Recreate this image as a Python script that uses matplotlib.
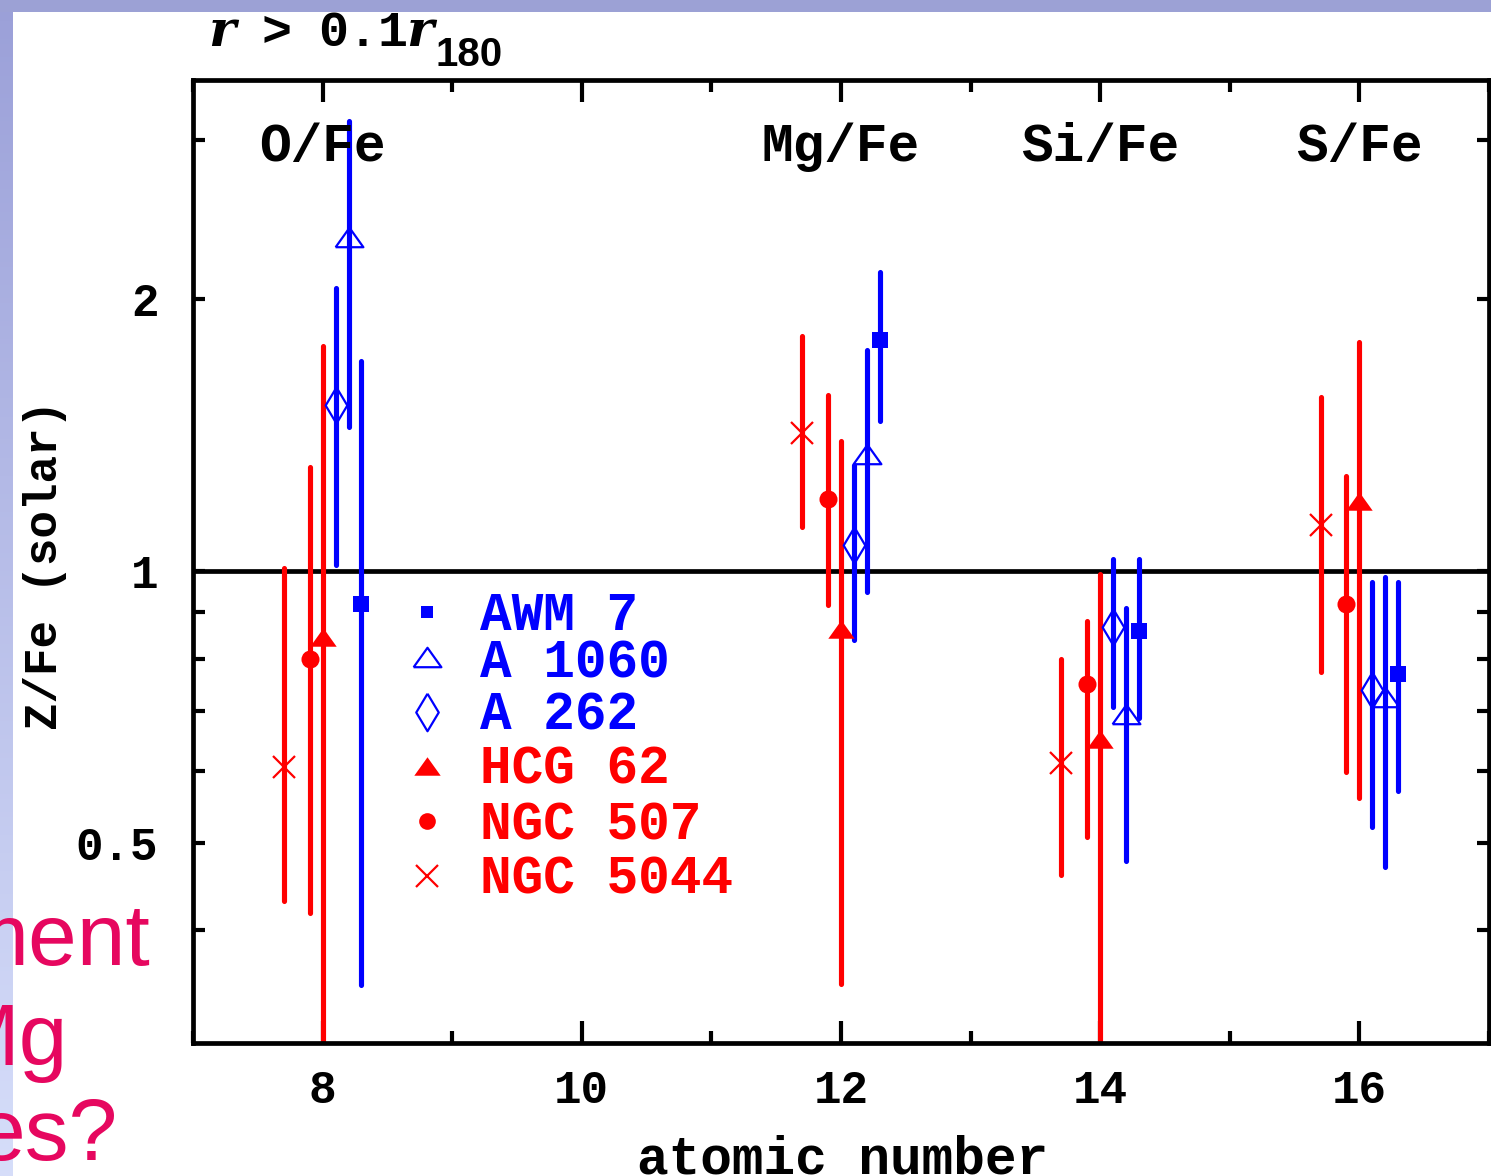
import numpy as np
import matplotlib
matplotlib.use("Agg")
import matplotlib.pyplot as plt
from matplotlib.ticker import FixedLocator, FixedFormatter, NullFormatter
from matplotlib.patches import Rectangle

# ---- data -------------------------------------------------------------
element_z = [8, 12, 14, 16]
element_labels = ["O/Fe", "Mg/Fe", "Si/Fe", "S/Fe"]

cluster_names = ["AWM 7", "A 1060", "A 262", "HCG 62", "NGC 507", "NGC 5044"]

# Z/Fe (solar) for O, Mg, Si, S and the lower / upper ends of each error bar
awm7_val = [0.919, 1.801, 0.859, 0.770]
awm7_lo = [0.348, 1.466, 0.687, 0.570]
awm7_hi = [1.707, 2.146, 1.030, 0.972]

a1060_val = [2.347, 1.349, 0.694, 0.725]
a1060_lo = [1.445, 0.948, 0.477, 0.470]
a1060_hi = [3.156, 1.758, 0.910, 0.984]

a262_val = [1.529, 1.069, 0.868, 0.739]
a262_lo = [1.015, 0.838, 0.707, 0.520]
a262_hi = [2.057, 1.310, 1.030, 0.972]

hcg62_val = [0.845, 0.862, 0.652, 1.196]
hcg62_lo = [0.20, 0.349, 0.20, 0.560]
hcg62_hi = [1.774, 1.393, 0.992, 1.794]

ngc507_val = [0.799, 1.201, 0.749, 0.920]
ngc507_lo = [0.418, 0.916, 0.508, 0.599]
ngc507_hi = [1.305, 1.565, 0.880, 1.275]

ngc5044_val = [0.607, 1.422, 0.613, 1.126]
ngc5044_lo = [0.431, 1.119, 0.461, 0.772]
ngc5044_hi = [1.008, 1.820, 0.800, 1.559]

y_ticks = [0.5, 1, 2]
y_tick_labels = ["0.5", "1", "2"]
y_minor_ticks = [0.4, 0.6, 0.7, 0.8, 0.9, 3]
x_ticks = [8, 10, 12, 14, 16]

# ---- styles -----------------------------------------------------------
BLUE = "#0000ff"
RED = "#ff0000"
MONO = "Liberation Mono"

tri = [(-1.0, -0.7), (1.0, -0.7), (0.0, 0.7), (-1.0, -0.7)]
dia = [(0.0, 1.0), (0.6, 0.0), (0.0, -1.0), (-0.6, 0.0), (0.0, 1.0)]

series = [
    dict(val=awm7_val, lo=awm7_lo, hi=awm7_hi, color=BLUE, dx=0.3,
         marker="s", ms=11, lms=9, fill=True, mew=0),
    dict(val=a1060_val, lo=a1060_lo, hi=a1060_hi, color=BLUE, dx=0.2,
         marker=tri, ms=20, lms=20, fill=False, mew=1.6),
    dict(val=a262_val, lo=a262_lo, hi=a262_hi, color=BLUE, dx=0.1,
         marker=dia, ms=26, lms=27, fill=False, mew=1.6),
    dict(val=hcg62_val, lo=hcg62_lo, hi=hcg62_hi, color=RED, dx=0.0,
         marker=tri, ms=19, lms=19, fill=True, mew=0),
    dict(val=ngc507_val, lo=ngc507_lo, hi=ngc507_hi, color=RED, dx=-0.1,
         marker="o", ms=13, lms=12, fill=True, mew=0),
    dict(val=ngc5044_val, lo=ngc5044_lo, hi=ngc5044_hi, color=RED, dx=-0.3,
         marker="x", ms=16, lms=16, fill=False, mew=1.6),
]

W, H = 1491, 1176
fig = plt.figure(figsize=(W / 100, H / 100), dpi=100)
fig.patch.set_facecolor("white")

# slide frame: lavender top bar and a gradient strip on the left
fig.patches.append(Rectangle((0, 1 - 12 / H), 1, 12 / H, transform=fig.transFigure,
                             facecolor="#9ca1d5", edgecolor="none", zorder=0))
strip = fig.add_axes([0, 0, 12 / W, 1 - 12 / H], zorder=-1)
top_c = np.array([0.61, 0.63, 0.85])
bot_c = np.array([0.84, 0.87, 0.98])
t = np.linspace(0, 1, 256)[:, None]
grad = (top_c[None, :] * (1 - t) + bot_c[None, :] * t)[:, None, :]
strip.imshow(grad, aspect="auto", extent=[0, 1, 0, 1], origin="upper")
strip.axis("off")

# slide text peeking in from the left
pink = "#e6075f"
for s, xr, yb in [("ment", 150, 965), ("Mg", 68, 1065), ("es?", 118, 1160)]:
    fig.text(xr / W, 1 - yb / H, s, ha="right", va="baseline",
             fontsize=63, color=pink, family="Liberation Sans", zorder=5)

# ---- main axes --------------------------------------------------------
ax = fig.add_axes([193 / W, 1 - 1043 / H, 1296 / W, 963 / H])
ax.set_xlim(7, 17)
ax.set_yscale("log")
ax.set_ylim(0.3, 3.5)

ax.axhline(1.0, color="black", lw=3.4, zorder=1)

for sp in series:
    x = [z + sp["dx"] for z in element_z]
    v = np.array(sp["val"])
    yerr = [v - np.array(sp["lo"]), np.array(sp["hi"]) - v]
    eb = ax.errorbar(x, v, yerr=yerr, fmt="none", ecolor=sp["color"],
                     elinewidth=3.7, capsize=0, zorder=2)
    eb[2][0].set_capstyle("round")
    fc = sp["color"] if sp["fill"] else "none"
    ax.plot(x, v, linestyle="none", marker=sp["marker"], markersize=sp["ms"],
            markerfacecolor=fc, markeredgecolor=sp["color"],
            markeredgewidth=sp["mew"], zorder=3)

# element labels along the top
for z, lab in zip(element_z, element_labels):
    ax.text(z, (1043 - 161) / 963, lab, transform=ax.get_xaxis_transform(),
            ha="center", va="baseline", fontsize=38, fontweight="bold",
            family=MONO, color="black")

# legend drawn as marker + coloured label rows
row_marker_px = [612, 657, 712, 766, 821, 876]
row_text_px = [630, 678, 730, 784, 839, 893]
for sp, name, ym, yt in zip(series, cluster_names, row_marker_px, row_text_px):
    fc = sp["color"] if sp["fill"] else "none"
    ax.plot([(427 - 193) / 1296], [(1043 - ym) / 963], transform=ax.transAxes,
            linestyle="none", marker=sp["marker"], markersize=sp["lms"],
            markerfacecolor=fc, markeredgecolor=sp["color"],
            markeredgewidth=sp["mew"], clip_on=False, zorder=4)
    ax.text((480 - 193) / 1296, (1043 - yt) / 963, name, transform=ax.transAxes,
            ha="left", va="baseline", fontsize=38, fontweight="bold",
            family=MONO, color=sp["color"])

# axes, ticks
for s in ax.spines.values():
    s.set_linewidth(3.4)
ax.xaxis.set_major_locator(FixedLocator(x_ticks))
ax.xaxis.set_minor_locator(FixedLocator([7, 9, 11, 13, 15, 17]))
ax.yaxis.set_major_locator(FixedLocator(y_ticks))
ax.yaxis.set_major_formatter(FixedFormatter(y_tick_labels))
ax.yaxis.set_minor_locator(FixedLocator(y_minor_ticks))
ax.yaxis.set_minor_formatter(NullFormatter())
ax.tick_params(axis="both", which="both", direction="in", top=True, right=True,
               width=3.0, colors="black")
ax.tick_params(axis="x", which="major", length=16, pad=19)
ax.tick_params(axis="x", which="minor", length=8.6)
ax.tick_params(axis="y", which="both", length=8.6, pad=25)
for lab in ax.get_xticklabels() + ax.get_yticklabels():
    lab.set_fontsize(33)
    lab.set_fontweight("bold")
    lab.set_family(MONO)

fig.text(843 / W, 1 - 1174 / H, "atomic number", ha="center", va="baseline",
         fontsize=38, fontweight="bold", family=MONO)
fig.text(45 / W, 1 - 565 / H, "Z/Fe (solar)", rotation=90, ha="center",
         va="center", fontsize=33, fontweight="bold", family=MONO)

# panel title: r > 0.1 r_180
fig.text(208 / W, 1 - 46 / H, "r", ha="left", va="baseline", fontsize=37,
         style="italic", fontweight="bold", family="DejaVu Serif")
fig.text(262 / W, 1 - 46 / H, ">", ha="left", va="baseline", fontsize=36,
         fontweight="bold", family=MONO)
fig.text(318 / W, 1 - 46 / H, "0.1", ha="left", va="baseline", fontsize=36,
         fontweight="bold", family=MONO)
fig.text(406 / W, 1 - 46 / H, "r", ha="left", va="baseline", fontsize=37,
         style="italic", fontweight="bold", family="DejaVu Serif")
fig.text(435 / W, 1 - 66 / H, "180", ha="left", va="baseline", fontsize=29,
         fontweight="bold", family="Liberation Sans")

fig.savefig("out.png", dpi=100)
